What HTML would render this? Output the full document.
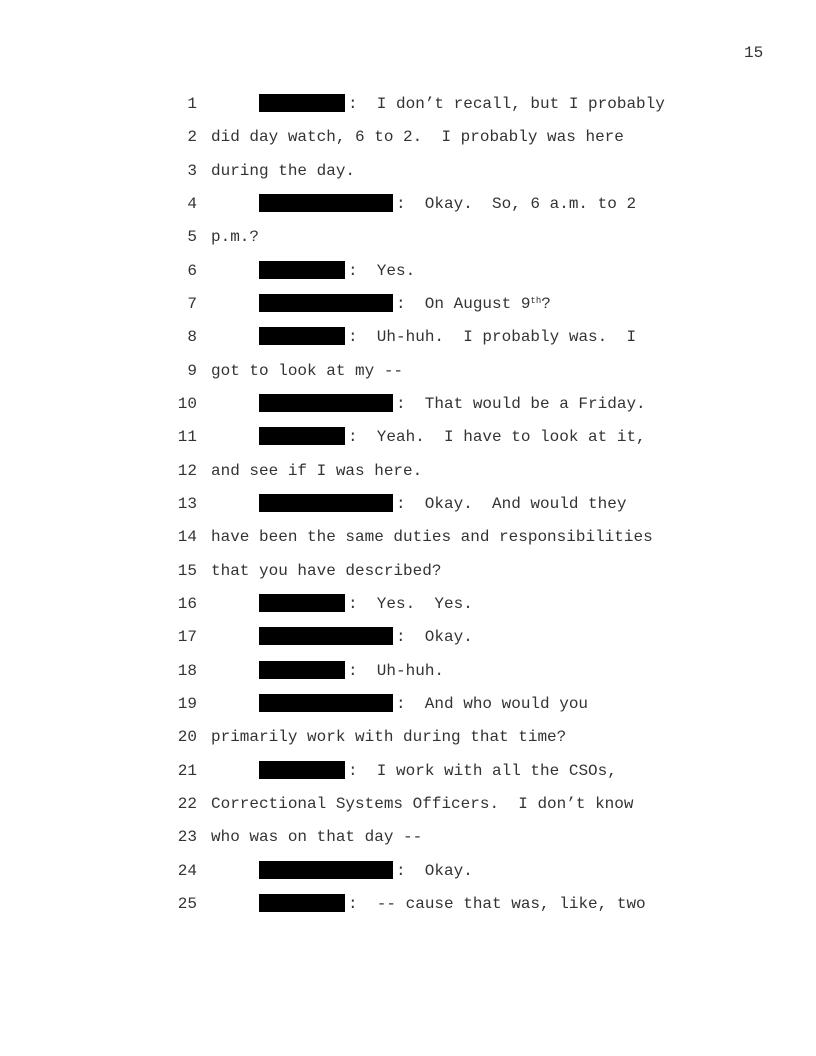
<!DOCTYPE html>
<html><head><meta charset="utf-8"><style>
html,body{margin:0;padding:0;background:#fff;}
body{width:816px;height:1056px;position:relative;overflow:hidden;font-family:"Liberation Mono","Courier New",monospace;font-size:16px;color:#333;}
.l{position:absolute;white-space:pre;line-height:20px;}
.n{position:absolute;width:30px;text-align:right;left:167px;line-height:20px;}
.b{position:absolute;background:#000;height:18px;left:259px;}
sup{font-size:9px;vertical-align:5px;line-height:0;}
</style></head><body>
<div class="l" style="left:744px;top:43px;">15</div>

<div class="n" style="top:94px">1</div><div class="b" style="top:94px;width:86px"></div><div class="l" style="left:348px;top:94px">:  I don’t recall, but I probably</div>
<div class="n" style="top:127px">2</div><div class="l" style="left:211px;top:127px">did day watch, 6 to 2.  I probably was here</div>
<div class="n" style="top:161px">3</div><div class="l" style="left:211px;top:161px">during the day.</div>
<div class="n" style="top:194px">4</div><div class="b" style="top:194px;width:134px"></div><div class="l" style="left:396px;top:194px">:  Okay.  So, 6 a.m. to 2</div>
<div class="n" style="top:227px">5</div><div class="l" style="left:211px;top:227px">p.m.?</div>
<div class="n" style="top:261px">6</div><div class="b" style="top:261px;width:86px"></div><div class="l" style="left:348px;top:261px">:  Yes.</div>
<div class="n" style="top:294px">7</div><div class="b" style="top:294px;width:134px"></div><div class="l" style="left:396px;top:294px">:  On August 9<sup>th</sup>?</div>
<div class="n" style="top:327px">8</div><div class="b" style="top:327px;width:86px"></div><div class="l" style="left:348px;top:327px">:  Uh-huh.  I probably was.  I</div>
<div class="n" style="top:361px">9</div><div class="l" style="left:211px;top:361px">got to look at my --</div>
<div class="n" style="top:394px">10</div><div class="b" style="top:394px;width:134px"></div><div class="l" style="left:396px;top:394px">:  That would be a Friday.</div>
<div class="n" style="top:427px">11</div><div class="b" style="top:427px;width:86px"></div><div class="l" style="left:348px;top:427px">:  Yeah.  I have to look at it,</div>
<div class="n" style="top:461px">12</div><div class="l" style="left:211px;top:461px">and see if I was here.</div>
<div class="n" style="top:494px">13</div><div class="b" style="top:494px;width:134px"></div><div class="l" style="left:396px;top:494px">:  Okay.  And would they</div>
<div class="n" style="top:527px">14</div><div class="l" style="left:211px;top:527px">have been the same duties and responsibilities</div>
<div class="n" style="top:561px">15</div><div class="l" style="left:211px;top:561px">that you have described?</div>
<div class="n" style="top:594px">16</div><div class="b" style="top:594px;width:86px"></div><div class="l" style="left:348px;top:594px">:  Yes.  Yes.</div>
<div class="n" style="top:627px">17</div><div class="b" style="top:627px;width:134px"></div><div class="l" style="left:396px;top:627px">:  Okay.</div>
<div class="n" style="top:661px">18</div><div class="b" style="top:661px;width:86px"></div><div class="l" style="left:348px;top:661px">:  Uh-huh.</div>
<div class="n" style="top:694px">19</div><div class="b" style="top:694px;width:134px"></div><div class="l" style="left:396px;top:694px">:  And who would you</div>
<div class="n" style="top:727px">20</div><div class="l" style="left:211px;top:727px">primarily work with during that time?</div>
<div class="n" style="top:761px">21</div><div class="b" style="top:761px;width:86px"></div><div class="l" style="left:348px;top:761px">:  I work with all the CSOs,</div>
<div class="n" style="top:794px">22</div><div class="l" style="left:211px;top:794px">Correctional Systems Officers.  I don’t know</div>
<div class="n" style="top:827px">23</div><div class="l" style="left:211px;top:827px">who was on that day --</div>
<div class="n" style="top:861px">24</div><div class="b" style="top:861px;width:134px"></div><div class="l" style="left:396px;top:861px">:  Okay.</div>
<div class="n" style="top:894px">25</div><div class="b" style="top:894px;width:86px"></div><div class="l" style="left:348px;top:894px">:  -- cause that was, like, two</div>
</body></html>
